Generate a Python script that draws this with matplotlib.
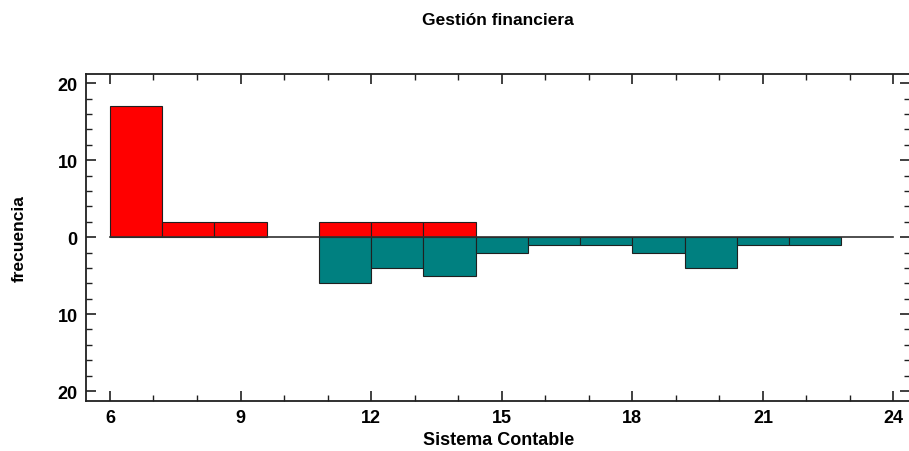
import matplotlib.pyplot as plt
import numpy as np
from matplotlib.ticker import MultipleLocator, FuncFormatter

plt.rcParams['font.family'] = ['Liberation Sans', 'DejaVu Sans']
plt.rcParams['font.weight'] = 'bold'

# bin edges 6, 7.2, ... 22.8
bin_edges = [6.0, 7.2, 8.4, 9.6, 10.8, 12.0, 13.2, 14.4, 15.6, 16.8, 18.0, 19.2, 20.4, 21.6, 22.8]
upper_counts = [17, 2, 2, 0, 2, 2, 2, 0, 0, 0, 0, 0, 0, 0]   # red, above zero
lower_counts = [0, 0, 0, 0, 6, 4, 5, 2, 1, 1, 2, 4, 1, 1]    # teal, below zero

left = np.array(bin_edges[:-1])
width = np.diff(bin_edges)

fig = plt.figure(figsize=(9.09, 4.52), dpi=100)
ax = fig.add_axes([0.0946, 0.1106, 0.907, 0.7234])

up = np.array(upper_counts)
lo = np.array(lower_counts)
m = up > 0
ax.bar(left[m], up[m], width=width[m], align='edge', color='#ff0000',
       edgecolor='#202020', linewidth=0.8, zorder=2)
m = lo > 0
ax.bar(left[m], -lo[m], width=width[m], align='edge', color='#008080',
       edgecolor='#202020', linewidth=0.8, zorder=2)
ax.plot([6, 24], [0, 0], color='#303030', linewidth=1.2, zorder=3)

ax.set_xlim(5.45, 24.39)
ax.set_ylim(-21.3, 21.2)
ax.xaxis.set_major_locator(MultipleLocator(3))
ax.xaxis.set_minor_locator(MultipleLocator(1))
ax.yaxis.set_major_locator(MultipleLocator(10))
ax.yaxis.set_minor_locator(MultipleLocator(2))
ax.yaxis.set_major_formatter(FuncFormatter(lambda v, p: f"{abs(v):.0f}"))

ax.tick_params(which='both', direction='in', top=True, right=True,
               labelsize=13, color='#202020')
ax.tick_params(which='major', length=7, width=1.2, pad=6)
ax.tick_params(which='minor', length=4, width=1)
for s in ['left', 'bottom', 'top', 'right']:
    ax.spines[s].set_linewidth(1.3)
    ax.spines[s].set_color('#202020')

ax.set_xlabel("Sistema Contable", fontsize=13, fontweight='bold', labelpad=3)
ax.set_ylabel("frecuencia", fontsize=12.5, fontweight='bold', labelpad=22)
fig.text(0.548, 0.955, "Gestión financiera", ha='center', va='center',
         fontsize=12.5, fontweight='bold')

fig.savefig('out.png', dpi=100)
